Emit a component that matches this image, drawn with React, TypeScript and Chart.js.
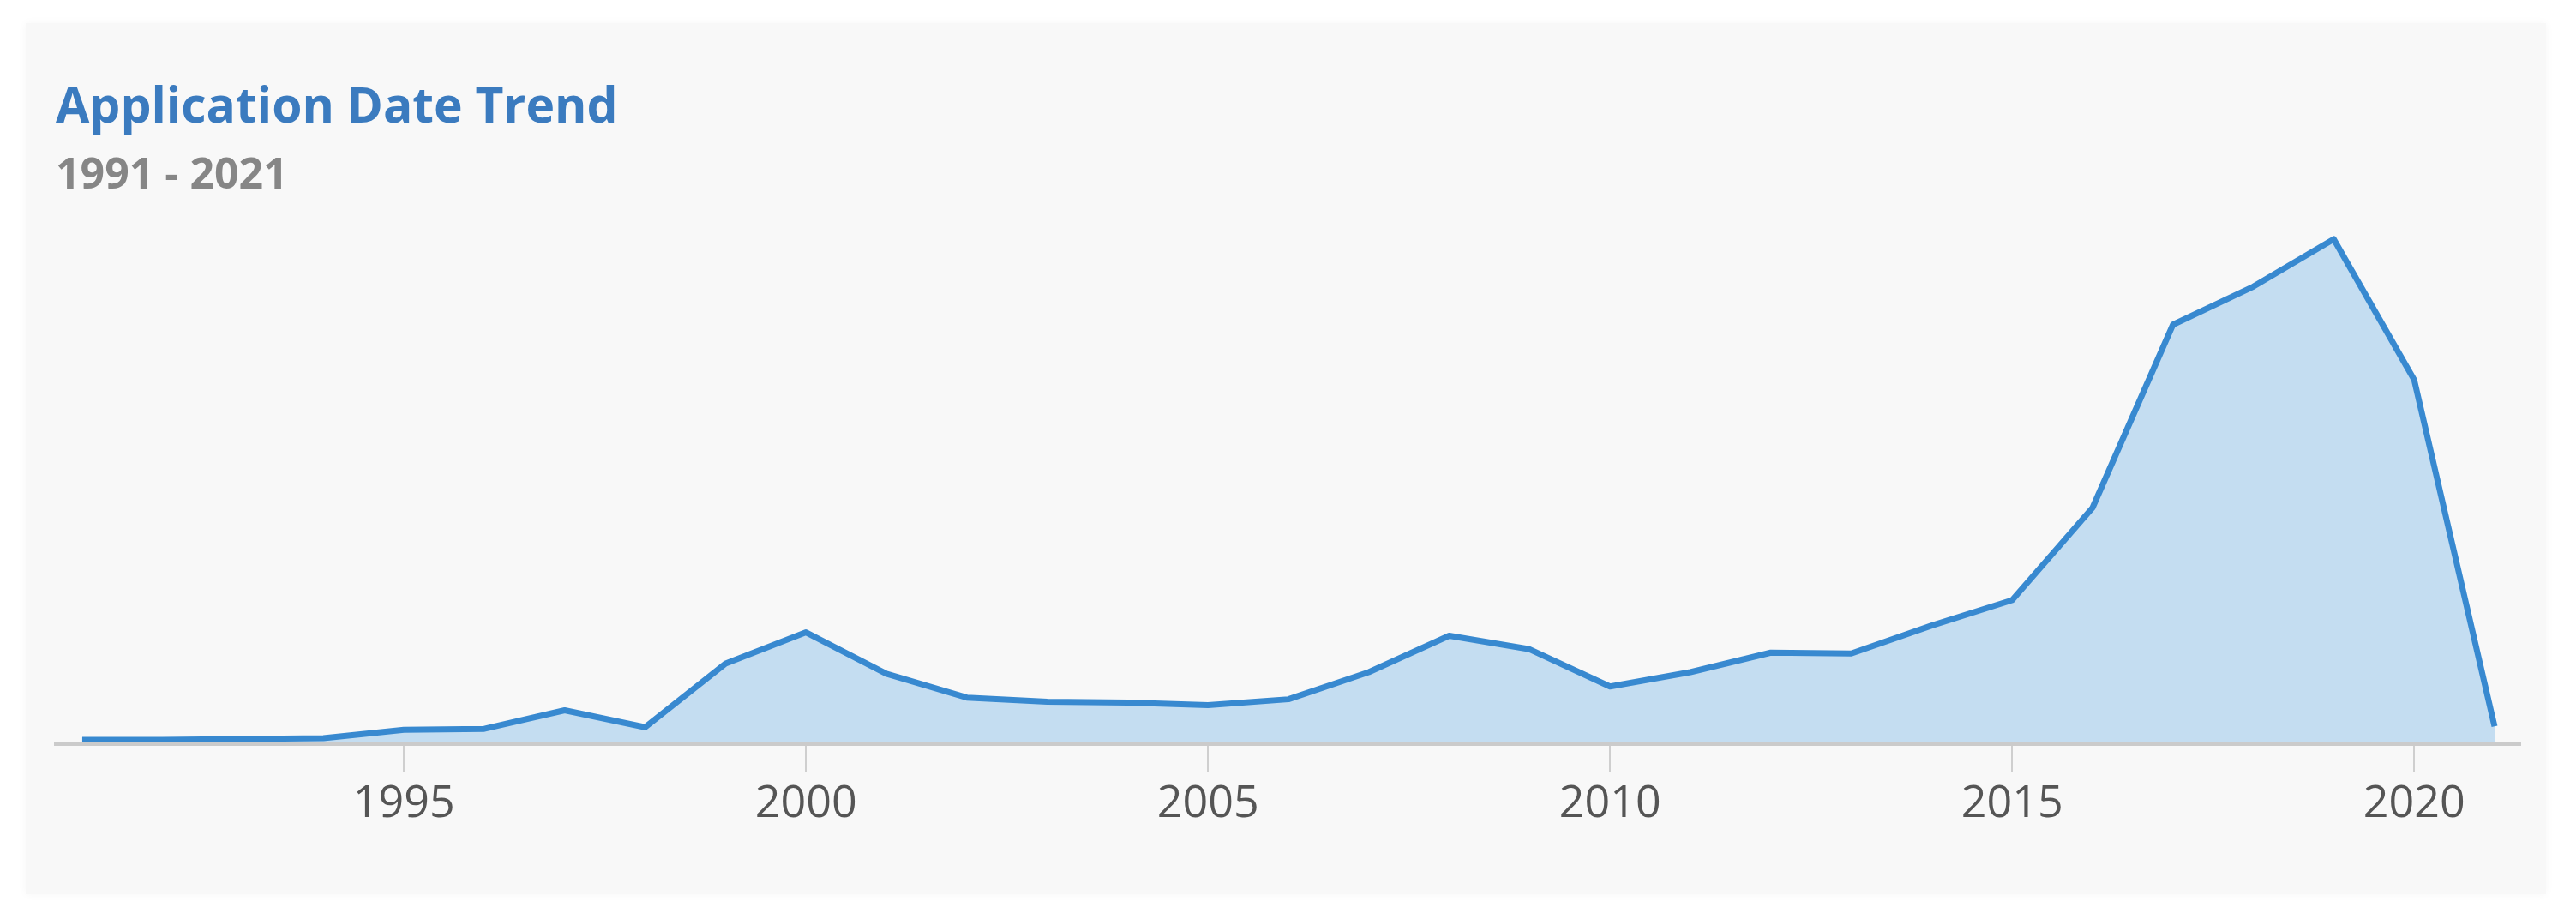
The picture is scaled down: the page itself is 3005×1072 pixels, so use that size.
import React, { useEffect, useRef } from "react";
import { Chart, registerables } from "chart.js";

Chart.register(...registerables);

const years: number[] = [
  1991, 1992, 1993, 1994, 1995, 1996, 1997, 1998, 1999, 2000,
  2001, 2002, 2003, 2004, 2005, 2006, 2007, 2008, 2009, 2010,
  2011, 2012, 2013, 2014, 2015, 2016, 2017, 2018, 2019, 2020, 2021,
];

const applications: number[] = [
  5, 5, 6, 7, 17, 18, 40, 20, 95, 132,
  83, 55, 50, 49, 46, 53, 85, 128, 112, 68,
  85, 108, 107, 140, 170, 279, 495, 540, 596, 430, 21,
];

const tickYears: number[] = [1995, 2000, 2005, 2010, 2015, 2020];

const titleText = "Application Date Trend";
const subtitleText = "1991 - 2021";

export default function App() {
  const canvasRef = useRef<HTMLCanvasElement | null>(null);

  useEffect(() => {
    const canvas = canvasRef.current;
    if (!canvas) return;
    const chart = new Chart(canvas, {
      type: "line",
      data: {
        datasets: [
          {
            label: "Applications",
            data: years.map((yr, i) => ({ x: yr, y: applications[i] })),
            borderColor: "#3889d0",
            backgroundColor: "#c4ddf1",
            borderWidth: 7,
            fill: "origin",
            pointRadius: 0,
            pointHoverRadius: 0,
            tension: 0,
            borderJoinStyle: "round",
          },
        ],
      },
      options: {
        responsive: false,
        animation: false,
        maintainAspectRatio: false,
        layout: { padding: { left: 65, right: 65, top: 0, bottom: 95.6 } },
        plugins: {
          legend: { display: false },
          tooltip: { enabled: false },
          title: {
            display: true,
            text: titleText,
            align: "start",
            color: "#3b7bbf",
            font: { family: "'Open Sans'", size: 57, weight: "bold", lineHeight: 1.2 },
            padding: { top: 93, bottom: 0 },
          },
          subtitle: {
            display: true,
            text: subtitleText,
            align: "start",
            color: "#868686",
            font: { family: "'Open Sans'", size: 50, weight: "bold", lineHeight: 1.2 },
            padding: { top: 14.6, bottom: 39 },
          },
        },
        scales: {
          x: {
            type: "linear",
            min: 1990.67,
            max: 2021.32,
            afterBuildTicks: (axis: any) => {
              axis.ticks = tickYears.map((v) => ({ value: v }));
            },
            grid: {
              display: true,
              drawOnChartArea: false,
              drawTicks: true,
              tickLength: 32,
              color: "#cfcfcf",
              lineWidth: 2,
            },
            border: { display: true, color: "#cbcbcb", width: 4, z: 1 },
            ticks: {
              padding: 7,
              color: "#555555",
              maxRotation: 0,
              autoSkip: false,
              font: { family: "'Open Sans'", size: 52, lineHeight: 1.2 },
              callback: (v: any) => String(v),
            },
          },
          y: {
            display: false,
            min: 0,
            max: 600,
          },
        },
      },
    });
    return () => chart.destroy();
  }, []);

  return (
    <div
      style={{
        position: "absolute",
        left: 0,
        top: 0,
        width: 3005,
        height: 1072,
        background: "#ffffff",
        overflow: "hidden",
      }}
    >
      <div
        style={{
          position: "absolute",
          left: 30,
          top: 27,
          width: 2940,
          height: 1016,
          background: "#f8f8f8",
          boxShadow: "0 0 10px rgba(0,0,0,0.04)",
        }}
      />
      <canvas
        ref={canvasRef}
        width={3005}
        height={1072}
        style={{ position: "absolute", left: 0, top: 0, width: 3005, height: 1072 }}
      />
    </div>
  );
}
